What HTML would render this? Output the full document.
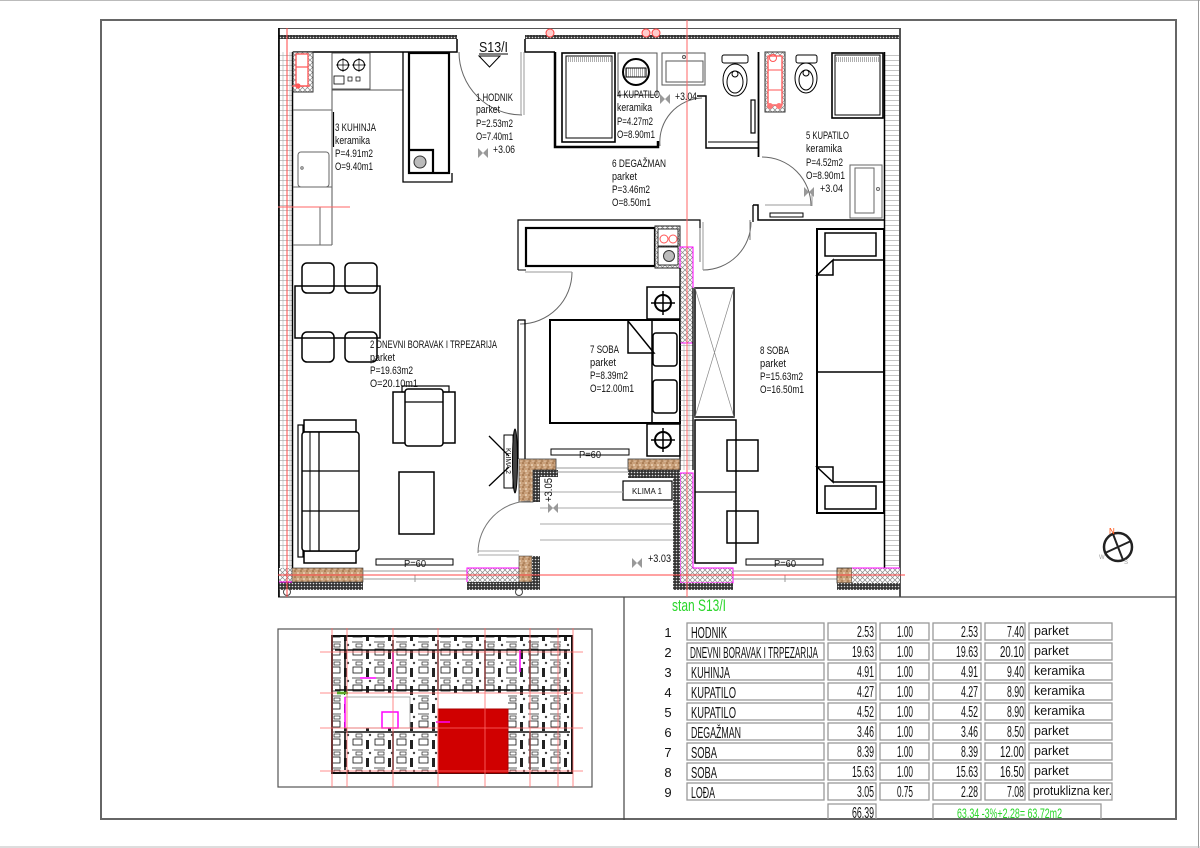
<!DOCTYPE html>
<html><head><meta charset="utf-8"><style>
html,body{margin:0;padding:0;background:#fff;}
svg{display:block;}
.t{font-family:"Liberation Sans Narrow","Liberation Sans",sans-serif;fill:#111;stroke:none;}
.n{font-family:"Liberation Sans",sans-serif;fill:#111;stroke:none;}
</style></head><body>
<svg width="1200" height="848" viewBox="0 0 1200 848" xmlns="http://www.w3.org/2000/svg">
<defs>
<pattern id="xh" width="5" height="5" patternUnits="userSpaceOnUse"><rect width="5" height="5" fill="#fff"/><path d="M0,0L5,5M5,0L0,5" stroke="#888" stroke-width="0.7"/></pattern>
<pattern id="br" width="6" height="6" patternUnits="userSpaceOnUse"><rect width="6" height="6" fill="#c9a07a"/><circle cx="1" cy="1" r="0.8" fill="#8a5a30"/><circle cx="4" cy="3" r="0.8" fill="#fff3e0"/><circle cx="2" cy="5" r="0.6" fill="#7a4a20"/><circle cx="5" cy="5.2" r="0.5" fill="#f4e4d0"/></pattern>
<pattern id="dk" width="3" height="3" patternUnits="userSpaceOnUse"><rect width="3" height="3" fill="#333"/><circle cx="1.5" cy="1.5" r="0.8" fill="#ddd"/></pattern>
<pattern id="hl" width="10" height="5" patternUnits="userSpaceOnUse"><line x1="0" y1="0.5" x2="10" y2="0.5" stroke="#aaa" stroke-width="0.7"/></pattern>
<pattern id="vl" width="2" height="5" patternUnits="userSpaceOnUse"><line x1="0.5" y1="0" x2="0.5" y2="5" stroke="#777" stroke-width="0.6"/></pattern>
<pattern id="mp" width="22" height="18" patternUnits="userSpaceOnUse"><rect width="22" height="18" fill="#fff"/><rect x="1" y="1" width="9" height="6" fill="none" stroke="#111" stroke-width="0.8"/><rect x="14" y="2" width="3" height="9" fill="#222"/><line x1="0" y1="12" x2="11" y2="12" stroke="#333" stroke-width="0.8"/><rect x="4" y="14" width="6" height="3" fill="none" stroke="#222" stroke-width="0.7"/><circle cx="18" cy="15" r="1.2" fill="#444"/></pattern>
</defs>
<rect width="1200" height="848" fill="#fff"/>
<line x1="0" y1="0.5" x2="1200" y2="0.5" stroke="#bbb"/>
<line x1="1198.5" y1="0" x2="1198.5" y2="848" stroke="#999"/>
<line x1="0" y1="847" x2="1200" y2="847" stroke="#bbb"/>
<rect x="101" y="20" width="1075" height="799" fill="none" stroke="#666" stroke-width="2"/>

<g fill="none" stroke="#000">
<path d="M278.5,597 V28.5 H900.5 V597" stroke="#555" stroke-width="1"/>
<line x1="278" y1="597" x2="1176" y2="597" stroke="#444" stroke-width="1.2"/>
<line x1="624" y1="597" x2="624" y2="820" stroke="#444" stroke-width="1.2"/>

<rect x="279" y="35" width="178" height="4" fill="url(#dk)" stroke="none"/>
<rect x="525" y="35" width="375" height="4" fill="url(#dk)" stroke="none"/>
<path d="M293,52 H457 V39" stroke-width="1.5"/>
<path d="M525,39 V52 H555" stroke-width="1.5"/>

<rect x="279" y="52" width="13" height="516" fill="url(#hl)" stroke="none"/>
<line x1="279" y1="28" x2="279" y2="597" stroke-width="1.6"/>
<line x1="292.5" y1="52" x2="292.5" y2="568" stroke-width="1.5"/>
<line x1="283" y1="52" x2="283" y2="568" stroke="#aaa" stroke-width="0.6"/>
<line x1="290" y1="52" x2="290" y2="568" stroke="#aaa" stroke-width="0.6"/>

<rect x="885" y="52" width="14" height="516" fill="url(#hl)" stroke="none"/>
<line x1="884.5" y1="52" x2="884.5" y2="568" stroke-width="1.5"/>
<line x1="899.5" y1="28" x2="899.5" y2="597" stroke="#555" stroke-width="1"/>

<rect x="293" y="52" width="20" height="40" fill="url(#xh)" stroke="#333"/>
<rect x="296" y="54" width="12" height="32" fill="#fff" stroke="#f55" stroke-width="1.3"/>
<line x1="296" y1="67" x2="308" y2="67" stroke="#f55" stroke-width="1.2"/>
<line x1="292" y1="86" x2="310" y2="86" stroke="#f55" stroke-width="1.2"/>
<circle cx="298" cy="86" r="2.6" fill="#f55" stroke="none"/>
<path d="M332,245 V90 H403" stroke="#555" stroke-width="1"/>
<rect x="332" y="53" width="38" height="36" stroke="#555"/>
<circle cx="343" cy="65" r="5.5" stroke-width="1"/><circle cx="359" cy="65" r="5.5" stroke-width="1"/>
<path d="M336,65H350M343,58V72M352,65H366M359,58V72" stroke-width="0.7"/>
<rect x="334" y="76" width="10" height="8" stroke-width="0.8"/>
<rect x="348" y="77" width="4" height="4" stroke-width="0.7"/><rect x="356" y="77" width="4" height="4" stroke-width="0.7"/>
<line x1="293" y1="110" x2="332" y2="110" stroke="#666"/>
<rect x="298" y="152" width="31" height="35" rx="3" stroke="#666"/>
<circle cx="302" cy="168" r="1.2" stroke="#666"/>
<line x1="293" y1="187" x2="332" y2="187" stroke="#666"/>
<line x1="293" y1="245" x2="332" y2="245" stroke="#666"/>
<line x1="320" y1="207" x2="320" y2="245" stroke="#666"/>
<line x1="333.5" y1="112" x2="333.5" y2="147" stroke-width="1.2"/>
<path d="M403,52 V182 H452 V173" stroke-width="1.3"/>
<rect x="409" y="53" width="40" height="120" stroke-width="2.2"/>
<path d="M409,150 H433 V173" stroke-width="2.2"/>
<circle cx="420" cy="162" r="6" fill="#bbb" stroke="#333"/>
<path d="M459,52 A63,63 0 0 0 522,115" stroke="#666"/>
<line x1="521" y1="52" x2="521" y2="115" stroke="#999"/>
<line x1="524" y1="52" x2="524" y2="115" stroke="#999"/>
<line x1="479" y1="54" x2="508" y2="54" stroke-width="1"/>
<path d="M479,56 H500 L489.5,67 Z" stroke-width="1"/>

<path d="M555,52 V147 H658 V141" stroke-width="2.5"/>
<rect x="562" y="53" width="53" height="89" stroke-width="1.6"/>
<rect x="566" y="56" width="46" height="82" stroke-width="1"/>
<rect x="567" y="57" width="44" height="5" fill="url(#vl)" stroke="none"/>
<rect x="618" y="53" width="39" height="42" stroke="#555"/>
<circle cx="636" cy="72" r="13" stroke-width="2"/>
<rect x="626" y="68" width="20" height="9" fill="url(#vl)" stroke-width="1"/>
<path d="M660,146 A44,44 0 0 1 702,98" stroke="#666"/>
<path d="M697,96 H706 V148 H758" stroke-width="1.5"/>
<line x1="708" y1="142" x2="758" y2="142" stroke-width="1"/>
<rect x="662" y="53" width="43" height="32" stroke="#555"/>
<rect x="666" y="61" width="37" height="21" stroke="#555"/>
<circle cx="684" cy="57" r="1.5" stroke="#555"/>
<rect x="722" y="55" width="26" height="8" rx="2"/>
<ellipse cx="735" cy="80" rx="12" ry="16"/>
<ellipse cx="735" cy="82" rx="8" ry="11"/>
<circle cx="735" cy="74" r="3"/>
<rect x="751" y="100" width="4" height="33" stroke-width="1.2"/>
<line x1="758.5" y1="52" x2="758.5" y2="157" stroke-width="1.8"/>
<rect x="765" y="52" width="20" height="60" fill="url(#xh)" stroke="#333"/>
<rect x="768" y="56" width="14" height="49" fill="#fff" stroke="#f55" stroke-width="1.3"/>
<line x1="768" y1="70" x2="782" y2="70" stroke="#f55"/>
<line x1="768" y1="90" x2="782" y2="90" stroke="#f55"/>
<circle cx="773" cy="58" r="3.5" stroke="#f55"/>
<circle cx="770" cy="106" r="3" fill="#f77" stroke="none"/><circle cx="779" cy="106" r="3" fill="#f77" stroke="none"/>
<rect x="796" y="55" width="21" height="8" rx="2"/>
<ellipse cx="806" cy="78" rx="11" ry="15"/>
<ellipse cx="806" cy="80" rx="7" ry="10"/>
<circle cx="806" cy="73" r="3"/>
<rect x="832" y="53" width="51" height="65" stroke-width="1.6"/>
<rect x="835" y="55" width="45" height="60" stroke-width="1"/>
<rect x="836" y="57" width="43" height="5" fill="url(#vl)" stroke="none"/>
<rect x="850" y="165" width="32" height="53" stroke="#666"/>
<rect x="855" y="168" width="19" height="45" stroke="#666"/>
<circle cx="878" cy="189" r="1.5" stroke="#666"/>
<path d="M762,157 A49,49 0 0 1 811,206" stroke="#666"/>
<line x1="765" y1="205" x2="812" y2="205" stroke="#999"/>
<line x1="812" y1="190" x2="812" y2="206" stroke="#999"/>
<path d="M753,205 H758 V220 H884" stroke-width="1.5"/>
<line x1="753" y1="205" x2="753" y2="222" stroke-width="1.3"/>
<rect x="770" y="213" width="33" height="4" stroke-width="1"/>

<path d="M518,270 V220 H700 V228" stroke-width="1.2"/>
<line x1="518" y1="270" x2="526" y2="270"/>
<rect x="526" y="228" width="129" height="38" stroke-width="2.2"/>
<rect x="655" y="226" width="25" height="42" fill="url(#xh)" stroke="#222"/>
<rect x="658" y="229" width="20" height="17" fill="#fff" stroke-width="0.8"/>
<rect x="658" y="247" width="20" height="18" fill="#fff" stroke-width="0.8"/>
<circle cx="664" cy="239" r="4" stroke="#f55"/><circle cx="673" cy="239" r="4" stroke="#f55"/>
<circle cx="669" cy="256" r="5.5" fill="#bbb" stroke="#333"/>
<path d="M572,272 A52,52 0 0 1 520,324" stroke="#666"/>
<line x1="525" y1="272" x2="572" y2="272" stroke="#999"/>
<line x1="700" y1="228" x2="700" y2="262" stroke="#777"/>
<path d="M751,222 A48,48 0 0 1 703,270" stroke="#666"/>
<line x1="703" y1="222" x2="703" y2="270" stroke="#999"/>
<line x1="750" y1="220" x2="750" y2="240" stroke="#777"/>
<path d="M518,320 H525 V459 M518,320 V459" stroke-width="1.3"/>
<rect x="550" y="320" width="130" height="103" stroke-width="2"/>
<line x1="652" y1="320" x2="652" y2="423" stroke-width="1.5"/>
<path d="M628,321 V353 H654 Z" stroke-width="1.5"/>
<rect x="653" y="333" width="24" height="33" rx="3" stroke-width="1.5"/>
<rect x="653" y="380" width="24" height="33" rx="3" stroke-width="1.5"/>
<rect x="647" y="287" width="33" height="32" stroke-width="1.5"/>
<circle cx="663" cy="303" r="8" stroke-width="2"/>
<path d="M651,303H675M663,291V315" stroke-width="1.5"/>
<rect x="647" y="424" width="33" height="32" stroke-width="1.5"/>
<circle cx="663" cy="440" r="8" stroke-width="2"/>
<path d="M651,440H675M663,428V452" stroke-width="1.5"/>
<rect x="551" y="449" width="78" height="6" stroke-width="1"/>
<rect x="680" y="247" width="13" height="96" fill="url(#xh)" stroke="#f0f" stroke-width="1"/>
<rect x="680" y="343" width="13" height="127" fill="url(#hl)" stroke="none"/>
<line x1="680" y1="268" x2="680" y2="470" stroke-width="1.3"/>
<line x1="693" y1="288" x2="693" y2="470" stroke-width="1.3"/>
<line x1="684" y1="343" x2="684" y2="470" stroke="#aaa" stroke-width="0.6"/>
<line x1="689" y1="343" x2="689" y2="470" stroke="#aaa" stroke-width="0.6"/>
<path d="M680,473 H693 V568 H733 V583 H680 Z" fill="url(#xh)" stroke="#f0f"/>
<rect x="673" y="470" width="7" height="120" fill="url(#dk)" stroke="none"/>
<rect x="673" y="583" width="60" height="7" fill="url(#dk)" stroke="none"/>
<rect x="695" y="288" width="39" height="129" stroke-width="1.5"/>
<path d="M695,288 L734,417 M734,288 L695,417" stroke="#888" stroke-width="0.7"/>
<rect x="695" y="420" width="41" height="143" stroke-width="1.5"/>
<line x1="695" y1="492" x2="736" y2="492" stroke-width="1.3"/>
<rect x="727" y="440" width="31" height="31" stroke-width="1.5"/>
<rect x="727" y="511" width="31" height="32" stroke-width="1.5"/>
<rect x="746" y="559" width="77" height="6" stroke-width="1"/>
<rect x="817" y="229" width="67" height="284" stroke-width="2"/>
<line x1="817" y1="372" x2="884" y2="372" stroke-width="1.5"/>
<rect x="825" y="233" width="51" height="23" stroke-width="1.5"/>
<rect x="825" y="486" width="51" height="23" stroke-width="1.5"/>
<path d="M817,275 L833,260 V275 Z M833,260 H884" stroke-width="1.5"/>
<path d="M817,467 L833,482 V467 Z M833,482 H884" stroke-width="1.5"/>

<rect x="302" y="263" width="32" height="30" rx="5" stroke-width="1.5"/>
<rect x="345" y="263" width="32" height="30" rx="5" stroke-width="1.5"/>
<rect x="302" y="332" width="32" height="30" rx="5" stroke-width="1.5"/>
<rect x="345" y="332" width="32" height="30" rx="5" stroke-width="1.5"/>
<rect x="295" y="286" width="85" height="52" stroke-width="1.5"/>
<rect x="402" y="386" width="47" height="6" stroke-width="1.2"/>
<rect x="393" y="392" width="62" height="51" stroke-width="1.5"/>
<rect x="405" y="389" width="38" height="57" rx="3" fill="#fff" stroke-width="1.5"/>
<line x1="405" y1="402" x2="443" y2="402" stroke-width="1.2"/>
<rect x="304" y="420" width="52" height="12" stroke-width="1.5"/>
<rect x="304" y="551" width="52" height="12" stroke-width="1.5"/>
<rect x="298" y="425" width="5" height="132" stroke-width="1.2"/>
<rect x="302" y="432" width="57" height="119" rx="3" fill="#fff" stroke-width="1.5"/>
<line x1="302" y1="471" x2="359" y2="471" stroke-width="1.3"/>
<line x1="302" y1="511" x2="359" y2="511" stroke-width="1.3"/>
<line x1="319" y1="432" x2="319" y2="551" stroke-width="1.3"/>
<line x1="310" y1="432" x2="310" y2="551" stroke-width="1"/>
<rect x="399" y="472" width="35" height="62" stroke-width="1.5"/>
<rect x="376" y="559" width="77" height="6" stroke-width="1"/>

<rect x="504" y="435" width="9" height="53" fill="#fff" stroke-width="1"/>
<ellipse cx="515" cy="461" rx="2.5" ry="32" fill="#444" stroke="#000"/>
<path d="M489,436 L509,456 M489,486 L509,467" stroke-width="1.3"/>
<path d="M519,459 H556 V470 H533 V502 H519 Z" fill="url(#br)" stroke="#333" stroke-width="0.8"/>
<path d="M533,470 H558 V477 H540 V502 H533 Z" fill="url(#dk)" stroke="none"/>
<rect x="628" y="459" width="52" height="11" fill="url(#br)" stroke="#333" stroke-width="0.8"/>
<rect x="628" y="470" width="52" height="8" fill="url(#dk)" stroke="none"/>
<line x1="556" y1="468" x2="628" y2="468" stroke="#999"/>
<line x1="556" y1="472" x2="628" y2="472" stroke="#999"/>
<rect x="623" y="481" width="49" height="19" fill="#fff" stroke-width="1.2"/>
<path d="M540,492H623 M540,508H673 M540,524H673 M540,540H673" stroke="#aaa" stroke-width="1"/>
<path d="M478,551H519 M478,555H519" stroke="#aaa" stroke-width="1"/>
<path d="M478,553 A52,52 0 0 1 530,501" stroke="#777"/>
<rect x="279" y="568" width="13" height="14" fill="url(#xh)" stroke="none"/>
<rect x="292" y="568" width="71" height="14" fill="url(#br)" stroke="#333" stroke-width="0.6"/>
<rect x="279" y="582" width="84" height="8" fill="url(#dk)" stroke="none"/>
<line x1="279" y1="582" x2="292" y2="582" stroke="#f0f"/>
<path d="M363,571H467 M363,579H467" stroke="#999"/>
<line x1="415" y1="575" x2="415" y2="582" stroke="#999"/>
<rect x="467" y="568" width="58" height="14" fill="url(#xh)" stroke="none"/>
<path d="M467,582 V568 H519" stroke="#f0f"/>
<path d="M519,556 H532 V582 H519 Z" fill="url(#br)" stroke="#333" stroke-width="0.6"/>
<rect x="532" y="556" width="8" height="34" fill="url(#dk)" stroke="none"/>
<rect x="467" y="582" width="73" height="8" fill="url(#dk)" stroke="none"/>
<path d="M733,571H837 M733,579H837" stroke="#999"/>
<line x1="785" y1="575" x2="785" y2="582" stroke="#999"/>
<rect x="837" y="568" width="15" height="15" fill="url(#br)" stroke="#333" stroke-width="0.8"/>
<rect x="852" y="568" width="48" height="15" fill="url(#xh)" stroke="none"/>
<path d="M852,568 H900" stroke="#f0f"/>
<rect x="837" y="583" width="63" height="7" fill="url(#dk)" stroke="none"/>
<circle cx="287" cy="592" r="3.5" stroke="#444" fill="#fff"/>
<circle cx="519" cy="592" r="3.5" stroke="#444" fill="#fff"/>

<line x1="287" y1="28" x2="287" y2="597" stroke="#f44" stroke-width="1"/>
<line x1="687" y1="20" x2="687" y2="597" stroke="#f66" stroke-width="1"/>
<line x1="278" y1="575" x2="905" y2="575" stroke="#f44" stroke-width="1"/>
<line x1="278" y1="207" x2="350" y2="207" stroke="#f66" stroke-width="1"/>
<circle cx="550" cy="33" r="4" stroke="#f44" fill="#fcc"/>
<circle cx="646" cy="33" r="4" stroke="#f44" fill="#fcc"/>
<circle cx="656" cy="33" r="4" stroke="#f44" fill="#fcc"/>
</g>

<g fill="#999">
<path d="M478,148 l5,5 l-5,5z M488,148 l-5,5 l5,5z"/>
<path d="M660,94 l5,5 l-5,5z M670,94 l-5,5 l5,5z"/>
<path d="M804,187 l5,5 l-5,5z M814,187 l-5,5 l5,5z"/>
<path d="M548,503 l5,5 l-5,5z M558,503 l-5,5 l5,5z"/>
<path d="M632,558 l5,5 l-5,5z M642,558 l-5,5 l5,5z"/>
</g>

<g class="t" font-size="11">
<text x="479" y="52" font-size="15" textLength="29" lengthAdjust="spacingAndGlyphs">S13/I</text>
<text x="335" y="131" textLength="41" lengthAdjust="spacingAndGlyphs">3 KUHINJA</text>
<text x="335" y="144" textLength="35" lengthAdjust="spacingAndGlyphs">keramika</text>
<text x="335" y="157" textLength="38" lengthAdjust="spacingAndGlyphs">P=4.91m2</text>
<text x="335" y="170" textLength="38" lengthAdjust="spacingAndGlyphs">O=9.40m1</text>
<text x="476" y="101" textLength="37" lengthAdjust="spacingAndGlyphs">1 HODNIK</text>
<text x="476" y="113" textLength="24" lengthAdjust="spacingAndGlyphs">parket</text>
<text x="476" y="127" textLength="37" lengthAdjust="spacingAndGlyphs">P=2.53m2</text>
<text x="476" y="140" textLength="37" lengthAdjust="spacingAndGlyphs">O=7.40m1</text>
<text x="493" y="153" textLength="22" lengthAdjust="spacingAndGlyphs">+3.06</text>
<text x="617" y="98" textLength="43" lengthAdjust="spacingAndGlyphs">4 KUPATILO</text>
<text x="617" y="111" textLength="35" lengthAdjust="spacingAndGlyphs">keramika</text>
<text x="617" y="125" textLength="36" lengthAdjust="spacingAndGlyphs">P=4.27m2</text>
<text x="617" y="138" textLength="38" lengthAdjust="spacingAndGlyphs">O=8.90m1</text>
<text x="675" y="100" textLength="22" lengthAdjust="spacingAndGlyphs">+3.04</text>
<text x="612" y="167" textLength="54" lengthAdjust="spacingAndGlyphs">6 DEGAŽMAN</text>
<text x="612" y="180" textLength="25" lengthAdjust="spacingAndGlyphs">parket</text>
<text x="612" y="193" textLength="38" lengthAdjust="spacingAndGlyphs">P=3.46m2</text>
<text x="612" y="206" textLength="39" lengthAdjust="spacingAndGlyphs">O=8.50m1</text>
<text x="806" y="139" textLength="43" lengthAdjust="spacingAndGlyphs">5 KUPATILO</text>
<text x="806" y="152" textLength="36" lengthAdjust="spacingAndGlyphs">keramika</text>
<text x="806" y="166" textLength="37" lengthAdjust="spacingAndGlyphs">P=4.52m2</text>
<text x="806" y="179" textLength="39" lengthAdjust="spacingAndGlyphs">O=8.90m1</text>
<text x="820" y="192" textLength="23" lengthAdjust="spacingAndGlyphs">+3.04</text>
<text x="370" y="348" textLength="127" lengthAdjust="spacingAndGlyphs">2 DNEVNI BORAVAK I TRPEZARIJA</text>
<text x="370" y="361" textLength="25" lengthAdjust="spacingAndGlyphs">parket</text>
<text x="370" y="374" textLength="43" lengthAdjust="spacingAndGlyphs">P=19.63m2</text>
<text x="370" y="387" textLength="48" lengthAdjust="spacingAndGlyphs">O=20.10m1</text>
<text x="590" y="353" textLength="29" lengthAdjust="spacingAndGlyphs">7 SOBA</text>
<text x="590" y="366" textLength="26" lengthAdjust="spacingAndGlyphs">parket</text>
<text x="590" y="379" textLength="38" lengthAdjust="spacingAndGlyphs">P=8.39m2</text>
<text x="590" y="392" textLength="44" lengthAdjust="spacingAndGlyphs">O=12.00m1</text>
<text x="760" y="354" textLength="29" lengthAdjust="spacingAndGlyphs">8 SOBA</text>
<text x="760" y="367" textLength="26" lengthAdjust="spacingAndGlyphs">parket</text>
<text x="760" y="380" textLength="43" lengthAdjust="spacingAndGlyphs">P=15.63m2</text>
<text x="760" y="393" textLength="44" lengthAdjust="spacingAndGlyphs">O=16.50m1</text>
<text x="648" y="562" textLength="23" lengthAdjust="spacingAndGlyphs">+3.03</text>
<text x="0" y="0" transform="translate(552,502) rotate(-90)" textLength="24" lengthAdjust="spacingAndGlyphs">+3.05</text>
<text x="404" y="567" font-size="10" textLength="22" lengthAdjust="spacingAndGlyphs">P=60</text>
<text x="579" y="458" font-size="10" textLength="22" lengthAdjust="spacingAndGlyphs">P=60</text>
<text x="774" y="567" font-size="10" textLength="22" lengthAdjust="spacingAndGlyphs">P=60</text>
<text x="632" y="494" font-size="8" textLength="30" lengthAdjust="spacingAndGlyphs">KLIMA 1</text>
<text x="0" y="0" font-size="7" transform="translate(506,448) rotate(90)" textLength="26" lengthAdjust="spacingAndGlyphs">KLIMA 2</text>
</g>

<g transform="translate(1118,547)">
<circle r="14" fill="none" stroke="#222" stroke-width="2.5"/>
<path d="M-13,6 L13,-6 M-5,-13 L5,13" stroke="#222" stroke-width="2"/>
<text x="-9" y="-13" font-size="8" fill="#f40" font-family="Liberation Sans,sans-serif">N</text>
<text x="-19" y="12" font-size="6" fill="#999" font-family="Liberation Sans,sans-serif">W</text>
<text x="6" y="17" font-size="6" fill="#999" font-family="Liberation Sans,sans-serif">S</text>
</g>

<rect x="278" y="629" width="314" height="158" fill="#fff" stroke="#555" stroke-width="1.2"/>
<g>
<rect x="332" y="636" width="240" height="57" fill="url(#mp)"/>
<rect x="332" y="728" width="240" height="45" fill="url(#mp)"/>
<rect x="332" y="693" width="13" height="35" fill="url(#mp)"/>
<rect x="410" y="693" width="28" height="35" fill="url(#mp)"/>
<rect x="508" y="693" width="64" height="35" fill="url(#mp)"/>
<rect x="345" y="697" width="65" height="31" fill="#fff" stroke="#999" stroke-width="0.8"/>
<path d="M332,636 H572 V773 H332 Z" fill="none" stroke="#111" stroke-width="2"/>
<path d="M345,640 V690 M393,640 V690 M438,640 V690 M485,640 V690 M530,640 V690 M345,732 V770 M393,732 V770 M530,732 V770 M335,650 H570 M335,690 H570 M335,732 H570" stroke="#111" stroke-width="1.6"/>
<rect x="438" y="709" width="70" height="64" fill="#d00000" stroke="#a00" stroke-width="1"/>
<path d="M382,712 H398 V728 H382 Z" fill="none" stroke="#f0f" stroke-width="1.5"/>
<path d="M393,652 V690 M345,697 V728 M436,722 H450 M360,678 H376 M520,650 V672" stroke="#f0f" stroke-width="1.5"/>
<line x1="337" y1="693" x2="348" y2="693" stroke="#0c0" stroke-width="2.5"/>
<g stroke="#ff6b6b" stroke-width="0.8">
<path d="M332,628V787 M347,628V787 M393,628V787 M438,628V787 M485,628V787 M530,628V787 M558,628V787 M573,628V787"/>
<path d="M320,652H583 M320,693H583 M320,728H583 M320,771H583"/>
</g>
</g>

<text x="672" y="611" font-size="17" fill="#2bd62b" font-family="Liberation Sans Narrow,Liberation Sans,sans-serif" textLength="54" lengthAdjust="spacingAndGlyphs">stan S13/I</text>
<g fill="none" stroke="#999" stroke-width="1.3">
<rect x="687" y="623" width="137" height="17"/><rect x="828" y="623" width="48" height="17"/><rect x="880" y="623" width="49" height="17"/><rect x="933" y="623" width="48" height="17"/><rect x="985" y="623" width="40" height="17"/><rect x="1029" y="623" width="83" height="17"/>
<rect x="687" y="643" width="137" height="17"/><rect x="828" y="643" width="48" height="17"/><rect x="880" y="643" width="49" height="17"/><rect x="933" y="643" width="48" height="17"/><rect x="985" y="643" width="40" height="17"/><rect x="1029" y="643" width="83" height="17"/>
<rect x="687" y="663" width="137" height="17"/><rect x="828" y="663" width="48" height="17"/><rect x="880" y="663" width="49" height="17"/><rect x="933" y="663" width="48" height="17"/><rect x="985" y="663" width="40" height="17"/><rect x="1029" y="663" width="83" height="17"/>
<rect x="687" y="683" width="137" height="17"/><rect x="828" y="683" width="48" height="17"/><rect x="880" y="683" width="49" height="17"/><rect x="933" y="683" width="48" height="17"/><rect x="985" y="683" width="40" height="17"/><rect x="1029" y="683" width="83" height="17"/>
<rect x="687" y="703" width="137" height="17"/><rect x="828" y="703" width="48" height="17"/><rect x="880" y="703" width="49" height="17"/><rect x="933" y="703" width="48" height="17"/><rect x="985" y="703" width="40" height="17"/><rect x="1029" y="703" width="83" height="17"/>
<rect x="687" y="723" width="137" height="17"/><rect x="828" y="723" width="48" height="17"/><rect x="880" y="723" width="49" height="17"/><rect x="933" y="723" width="48" height="17"/><rect x="985" y="723" width="40" height="17"/><rect x="1029" y="723" width="83" height="17"/>
<rect x="687" y="743" width="137" height="17"/><rect x="828" y="743" width="48" height="17"/><rect x="880" y="743" width="49" height="17"/><rect x="933" y="743" width="48" height="17"/><rect x="985" y="743" width="40" height="17"/><rect x="1029" y="743" width="83" height="17"/>
<rect x="687" y="763" width="137" height="17"/><rect x="828" y="763" width="48" height="17"/><rect x="880" y="763" width="49" height="17"/><rect x="933" y="763" width="48" height="17"/><rect x="985" y="763" width="40" height="17"/><rect x="1029" y="763" width="83" height="17"/>
<rect x="687" y="783" width="137" height="17"/><rect x="828" y="783" width="48" height="17"/><rect x="880" y="783" width="49" height="17"/><rect x="933" y="783" width="48" height="17"/><rect x="985" y="783" width="40" height="17"/><rect x="1029" y="783" width="83" height="17"/>
<path d="M828,819 V804 H876 V819 M933,819 V804 H1101 V819"/>
</g>
<g class="n" font-size="13" text-anchor="middle">
<text x="668" y="637">1</text><text x="668" y="657">2</text><text x="668" y="677">3</text><text x="668" y="697">4</text><text x="668" y="717">5</text><text x="668" y="737">6</text><text x="668" y="757">7</text><text x="668" y="777">8</text><text x="668" y="797">9</text>
</g>
<g class="t" font-size="16">
<text x="691" y="638" textLength="36" lengthAdjust="spacingAndGlyphs">HODNIK</text>
<text x="690" y="658" textLength="128" lengthAdjust="spacingAndGlyphs">DNEVNI BORAVAK I TRPEZARIJA</text>
<text x="691" y="678" textLength="39" lengthAdjust="spacingAndGlyphs">KUHINJA</text>
<text x="691" y="698" textLength="45" lengthAdjust="spacingAndGlyphs">KUPATILO</text>
<text x="691" y="718" textLength="45" lengthAdjust="spacingAndGlyphs">KUPATILO</text>
<text x="691" y="738" textLength="50" lengthAdjust="spacingAndGlyphs">DEGAŽMAN</text>
<text x="691" y="758" textLength="26" lengthAdjust="spacingAndGlyphs">SOBA</text>
<text x="691" y="778" textLength="26" lengthAdjust="spacingAndGlyphs">SOBA</text>
<text x="691" y="798" textLength="24" lengthAdjust="spacingAndGlyphs">LOĐA</text>
</g>
<g class="t" font-size="16" text-anchor="end">
<text x="874" y="637" textLength="17" lengthAdjust="spacingAndGlyphs">2.53</text><text x="874" y="657" textLength="22" lengthAdjust="spacingAndGlyphs">19.63</text><text x="874" y="677" textLength="17" lengthAdjust="spacingAndGlyphs">4.91</text><text x="874" y="697" textLength="17" lengthAdjust="spacingAndGlyphs">4.27</text><text x="874" y="717" textLength="17" lengthAdjust="spacingAndGlyphs">4.52</text><text x="874" y="737" textLength="17" lengthAdjust="spacingAndGlyphs">3.46</text><text x="874" y="757" textLength="17" lengthAdjust="spacingAndGlyphs">8.39</text><text x="874" y="777" textLength="22" lengthAdjust="spacingAndGlyphs">15.63</text><text x="874" y="797" textLength="17" lengthAdjust="spacingAndGlyphs">3.05</text><text x="874" y="818" textLength="22" lengthAdjust="spacingAndGlyphs">66.39</text>
<text x="978" y="637" textLength="17" lengthAdjust="spacingAndGlyphs">2.53</text><text x="978" y="657" textLength="22" lengthAdjust="spacingAndGlyphs">19.63</text><text x="978" y="677" textLength="17" lengthAdjust="spacingAndGlyphs">4.91</text><text x="978" y="697" textLength="17" lengthAdjust="spacingAndGlyphs">4.27</text><text x="978" y="717" textLength="17" lengthAdjust="spacingAndGlyphs">4.52</text><text x="978" y="737" textLength="17" lengthAdjust="spacingAndGlyphs">3.46</text><text x="978" y="757" textLength="17" lengthAdjust="spacingAndGlyphs">8.39</text><text x="978" y="777" textLength="22" lengthAdjust="spacingAndGlyphs">15.63</text><text x="978" y="797" textLength="17" lengthAdjust="spacingAndGlyphs">2.28</text>
<text x="1024" y="637" textLength="17" lengthAdjust="spacingAndGlyphs">7.40</text><text x="1024" y="657" textLength="24" lengthAdjust="spacingAndGlyphs">20.10</text><text x="1024" y="677" textLength="17" lengthAdjust="spacingAndGlyphs">9.40</text><text x="1024" y="697" textLength="17" lengthAdjust="spacingAndGlyphs">8.90</text><text x="1024" y="717" textLength="17" lengthAdjust="spacingAndGlyphs">8.90</text><text x="1024" y="737" textLength="17" lengthAdjust="spacingAndGlyphs">8.50</text><text x="1024" y="757" textLength="24" lengthAdjust="spacingAndGlyphs">12.00</text><text x="1024" y="777" textLength="24" lengthAdjust="spacingAndGlyphs">16.50</text><text x="1024" y="797" textLength="17" lengthAdjust="spacingAndGlyphs">7.08</text>
</g>
<g class="t" font-size="16" text-anchor="middle">
<text x="905" y="637" textLength="16" lengthAdjust="spacingAndGlyphs">1.00</text><text x="905" y="657" textLength="16" lengthAdjust="spacingAndGlyphs">1.00</text><text x="905" y="677" textLength="16" lengthAdjust="spacingAndGlyphs">1.00</text><text x="905" y="697" textLength="16" lengthAdjust="spacingAndGlyphs">1.00</text><text x="905" y="717" textLength="16" lengthAdjust="spacingAndGlyphs">1.00</text><text x="905" y="737" textLength="16" lengthAdjust="spacingAndGlyphs">1.00</text><text x="905" y="757" textLength="16" lengthAdjust="spacingAndGlyphs">1.00</text><text x="905" y="777" textLength="16" lengthAdjust="spacingAndGlyphs">1.00</text><text x="905" y="797" textLength="16" lengthAdjust="spacingAndGlyphs">0.75</text>
</g>
<g class="n" font-size="12.5">
<text x="1034" y="635">parket</text><text x="1034" y="655">parket</text><text x="1034" y="675">keramika</text><text x="1034" y="695">keramika</text><text x="1034" y="715">keramika</text><text x="1034" y="735">parket</text><text x="1034" y="755">parket</text><text x="1034" y="775">parket</text><text x="1033" y="795" textLength="79" lengthAdjust="spacingAndGlyphs">protuklizna ker.</text>
</g>
<text x="957" y="818" font-size="14" fill="#2bd62b" font-family="Liberation Sans Narrow,Liberation Sans,sans-serif" textLength="105" lengthAdjust="spacingAndGlyphs">63.34 -3%+2.28= 63.72m2</text>
</svg>
</body></html>
